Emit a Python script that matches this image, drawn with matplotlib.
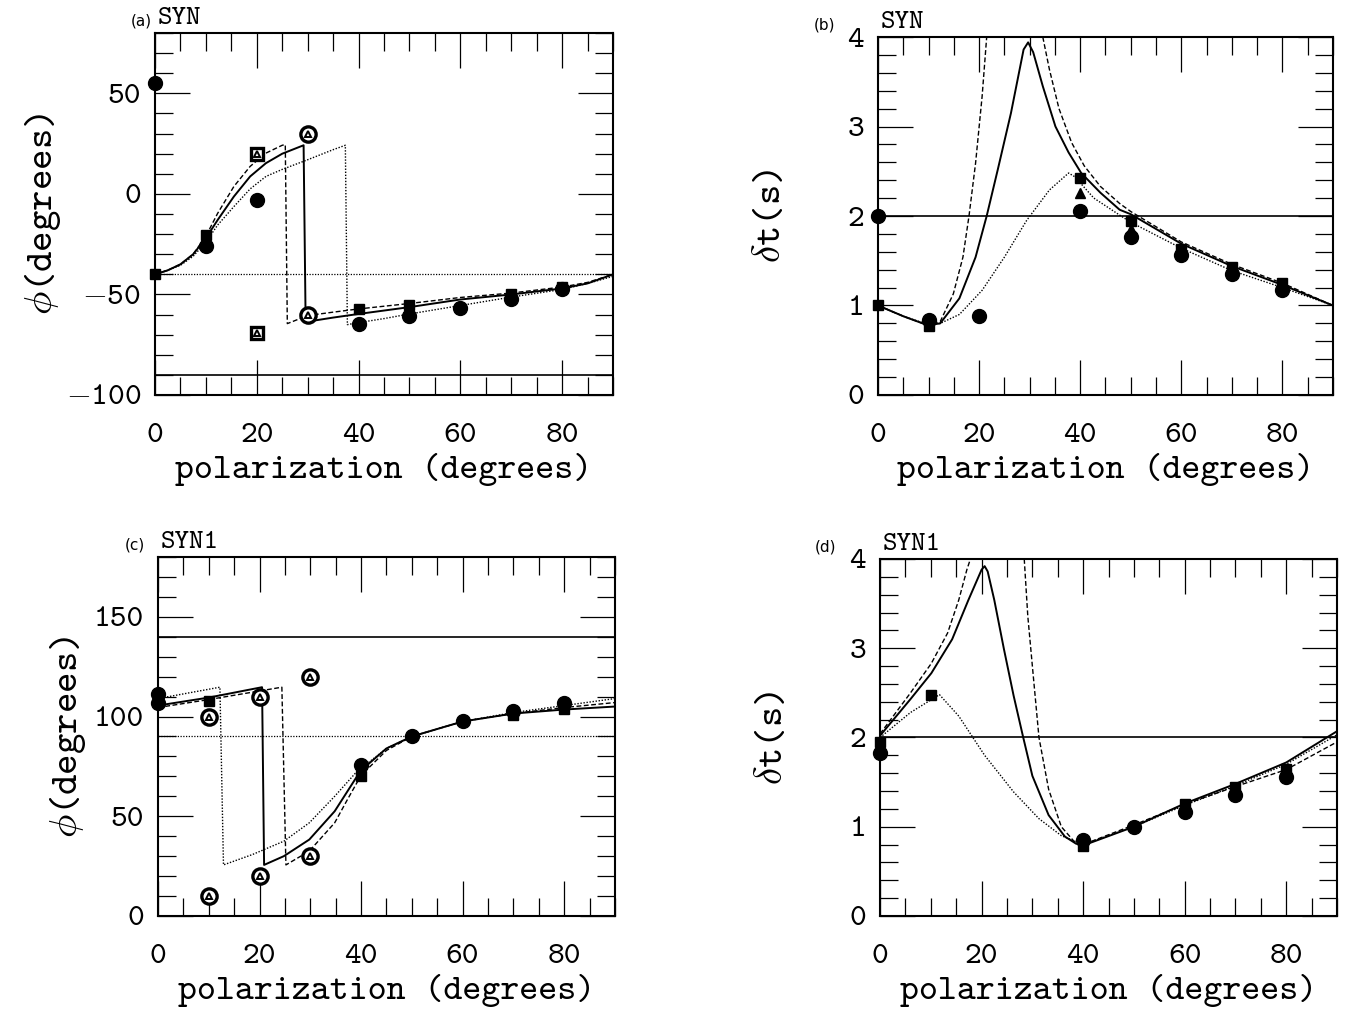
import numpy as np
import matplotlib
matplotlib.use('Agg')
import matplotlib.pyplot as plt
from matplotlib.ticker import MultipleLocator, FuncFormatter

plt.rcParams['font.family'] = 'cmtt10'
plt.rcParams['mathtext.fontset'] = 'cm'

# ---------------- panel (a): phi, SYN ----------------
a_dash_x = [0, 2.5, 5, 7.5, 10, 12.3, 15.5, 18.7, 21.8, 25, 25.6, 26, 30, 35, 40, 50, 60, 70, 80, 85, 90]
a_dash_y = [-40, -38, -35, -30, -21, -9.7, 3.7, 13.7, 20.3, 24.2, 24.5, -64.5, -60.5, -58.8, -57.2, -54.5, -51.5, -49.3, -46.3, -44, -40]
a_sol_x = [0, 2.5, 5, 7.5, 10, 12.3, 15.5, 18.7, 21.8, 25, 29.2, 29.6, 30, 35, 40, 50, 60, 70, 80, 85, 90]
a_sol_y = [-40, -38, -35, -30, -22, -13, -1.3, 8.7, 15.3, 20, 24.2, -64, -63.5, -61.5, -59.7, -56.3, -52.5, -50, -47, -44.5, -40]
a_dot_x = [0, 2.5, 5, 7.5, 10, 12.3, 15.5, 18.7, 21.8, 25, 30, 35, 37.4, 37.8, 40, 45, 50, 60, 70, 80, 85, 90]
a_dot_y = [-40, -38, -35.5, -31, -24, -15.5, -6.3, 2.5, 8.7, 12.2, 17, 22, 24.2, -65, -64, -62, -59.7, -55.5, -51.3, -47.5, -44.5, -41]
a_circ_x = [0, 10, 20, 40, 50, 60, 70, 80]
a_circ_y = [55, -26, -3, -64.5, -60.5, -56.5, -52.5, -47.5]
a_sq_x = [0, 10, 40, 50, 70, 80]
a_sq_y = [-40, -20.5, -57, -55, -50, -46.5]
a_osq_x = [20, 20]
a_osq_y = [20, -69]
a_ocirc_x = [30, 30]
a_ocirc_y = [30, -60]

# ---------------- panel (b): dt, SYN ----------------
b_dash_x = [0, 5, 9.8, 12.3, 14.9, 16.8, 18.0, 19.3, 20.6, 21.5, np.nan,
            32.6, 33.9, 35.8, 38.3, 40.8, 44, 47.8, 50, 60, 70, 80, 90]
b_dash_y = [1.0, 0.88, 0.78, 0.82, 1.13, 1.54, 2.0, 2.59, 3.34, 4.0, np.nan,
            4.0, 3.64, 3.2, 2.82, 2.56, 2.33, 2.14, 2.05, 1.71, 1.46, 1.25, 1.0]
b_sol_x = [0, 5, 9.8, 12.3, 16.1, 19.3, 21.5, 23.7, 26.3, 28.8, 29.7, 30.7, 32.6, 35.1, 37.7,
           40.2, 44, 47.8, 50, 60, 70, 80, 90]
b_sol_y = [1.0, 0.88, 0.78, 0.8, 1.08, 1.54, 2.0, 2.52, 3.15, 3.86, 3.94, 3.83, 3.45, 3.0, 2.71,
           2.48, 2.26, 2.07, 2.02, 1.69, 1.44, 1.23, 1.0]
b_dot_x = [0, 5, 9.8, 12.3, 16.1, 20.6, 25, 29.4, 33.9, 37.7, 38.9, 42.7, 47.8, 50, 60, 70, 80, 90]
b_dot_y = [1.0, 0.88, 0.79, 0.8, 0.9, 1.17, 1.54, 1.95, 2.29, 2.48, 2.44, 2.2, 2.01, 1.93, 1.64, 1.39, 1.2, 1.0]
b_circ_x = [0, 10, 20, 40, 50, 60, 70, 80]
b_circ_y = [2.0, 0.84, 0.88, 2.06, 1.77, 1.56, 1.35, 1.17]
b_sq_x = [0, 10, 40, 50, 60, 70, 80]
b_sq_y = [1.0, 0.77, 2.43, 1.94, 1.63, 1.43, 1.25]
b_tri_x = [40, 50]
b_tri_y = [2.26, 1.86]

# ---------------- panel (c): phi, SYN1 ----------------
c_dot_x = [0, 12.2, 12.9, 18.6, 24.8, 29.8, 34.8, 39.2, 40, 45, 50, 60, 70, 80, 90]
c_dot_y = [109, 114.7, 25.6, 30.8, 37.5, 46.7, 60, 72.5, 74, 84, 90, 97.5, 102, 105.5, 109]
c_sol_x = [0, 10, 20.5, 20.9, 24.8, 29.8, 34.8, 39.2, 40, 45, 50, 60, 70, 80, 90]
c_sol_y = [105.5, 109.5, 114.7, 25.6, 30, 38.3, 52.5, 70, 73, 84, 90, 97.5, 101.5, 103.5, 105]
c_dash_x = [0, 10, 24.4, 25.2, 29.8, 34.8, 37.3, 40, 45, 50, 60, 70, 80, 90]
c_dash_y = [104.5, 108.5, 114.7, 25.6, 32.5, 46.7, 58.3, 70.5, 83, 90, 97.5, 101.5, 104.5, 107]
c_circ_x = [0, 0, 40, 50, 60, 70, 80]
c_circ_y = [111.5, 107, 75.5, 90, 98, 103, 107]
c_sq_x = [10, 40, 70, 80]
c_sq_y = [108, 70, 101, 104]
c_ocirc_x = [10, 10, 20, 20, 30, 30]
c_ocirc_y = [100, 10, 110, 20, 120, 30]

# ---------------- panel (d): dt, SYN1 ----------------
d_dash_x = [0, 6, 10.1, 13.3, 15.5, 17.1, 17.8, np.nan,
            28.4, 29.1, 30, 31.3, 33.2, 35.7, 38.3, 40, 50, 60, 70, 80, 90]
d_dash_y = [2.04, 2.5, 2.83, 3.17, 3.54, 3.88, 4.0, np.nan,
            4.0, 3.36, 2.8, 2.0, 1.42, 1.0, 0.83, 0.8, 1.02, 1.25, 1.45, 1.64, 1.95]
d_sol_x = [0, 6, 10.1, 14.2, 17.4, 20, 20.6, 21.2, 22.5, 24.4, 26.3, 28.2, 30, 33.2, 36.4, 38.6, 40,
           50, 60, 70, 80, 90]
d_sol_y = [2.02, 2.43, 2.72, 3.1, 3.54, 3.88, 3.92, 3.86, 3.54, 2.99, 2.47, 2.0, 1.57, 1.13, 0.89, 0.81, 0.79,
           1.0, 1.26, 1.48, 1.72, 2.07]
d_dot_x = [0, 6, 11.7, 15.5, 20.6, 26.3, 31.3, 35.7, 40, 50, 60, 70, 80, 90]
d_dot_y = [2.0, 2.28, 2.48, 2.24, 1.8, 1.39, 1.09, 0.9, 0.8, 1.0, 1.24, 1.46, 1.7, 2.03]
d_circ_x = [0, 40, 50, 60, 70, 80]
d_circ_y = [1.83, 0.85, 1.0, 1.17, 1.35, 1.56]
d_sq_x = [0, 10, 40, 60, 70, 80]
d_sq_y = [1.95, 2.48, 0.78, 1.26, 1.45, 1.65]

DASH = (0, (3.5, 1.8))
DOT = (0, (1, 1.2))


def tick_fmt(v, pos):
    # cmtt10 has no minus glyph, take it from the math font
    if v < 0:
        return r'$-$' + f'{abs(v):g}'
    return f'{v:g}'


def style_axes(ax, ylo, yhi, ymaj, ymin):
    ax.set_xlim(0, 90)
    ax.set_ylim(ylo, yhi)
    ax.xaxis.set_major_locator(MultipleLocator(20))
    ax.xaxis.set_minor_locator(MultipleLocator(5))
    ax.yaxis.set_major_locator(MultipleLocator(ymaj))
    ax.yaxis.set_minor_locator(MultipleLocator(ymin))
    ax.xaxis.set_major_formatter(FuncFormatter(tick_fmt))
    ax.yaxis.set_major_formatter(FuncFormatter(tick_fmt))
    ax.tick_params(which='both', direction='in', top=True, right=True, width=0.9)
    ax.tick_params(which='major', length=25, labelsize=23)
    ax.tick_params(which='minor', length=13)
    ax.tick_params(axis='x', which='major', pad=20)
    ax.tick_params(axis='y', which='major', pad=10)
    for sp in ax.spines.values():
        sp.set_linewidth(1.5)
    ax.set_xlabel('polarization (degrees)', fontsize=26, labelpad=3)


def draw_curves(ax, dash, sol, dot):
    ax.plot(dash[0], dash[1], color='k', lw=1.0, linestyle=DASH)
    ax.plot(sol[0], sol[1], color='k', lw=1.4, linestyle='-')
    ax.plot(dot[0], dot[1], color='k', lw=1.0, linestyle=DOT)


def filled(ax, x, y, marker, ms):
    ax.plot(x, y, linestyle='none', marker=marker, ms=ms, color='k', clip_on=False, zorder=5)


def open_tri(ax, x, y, marker, ms):
    ax.plot(x, y, linestyle='none', marker=marker, ms=ms, mfc='white', mec='k', mew=2.4,
            clip_on=False, zorder=5)
    ax.plot(x, y, linestyle='none', marker='^', ms=5, mfc='white', mec='k', mew=1.4,
            clip_on=False, zorder=6)


def panel_title(ax, tag, name, tag_x):
    ax.text(tag_x, 1.012, tag, transform=ax.transAxes, ha='right', va='bottom',
            family='DejaVu Sans', fontsize=11)
    ax.text(0.005, 1.008, name, transform=ax.transAxes, ha='left', va='bottom', fontsize=20)


fig = plt.figure(figsize=(13.56, 10.11), dpi=100)
ax_a = fig.add_axes([0.1143, 0.6093, 0.3378, 0.358])
ax_b = fig.add_axes([0.6475, 0.6093, 0.3355, 0.3541])
ax_c = fig.add_axes([0.1165, 0.094, 0.337, 0.3551])
ax_d = fig.add_axes([0.649, 0.094, 0.337, 0.3531])

# (a)
style_axes(ax_a, -100, 80, 50, 10)
ax_a.axhline(-40, color='k', lw=0.9, linestyle=DOT)
ax_a.axhline(-90, color='k', lw=1.2)
draw_curves(ax_a, (a_dash_x, a_dash_y), (a_sol_x, a_sol_y), (a_dot_x, a_dot_y))
filled(ax_a, a_circ_x, a_circ_y, 'o', 10)
filled(ax_a, a_sq_x, a_sq_y, 's', 7)
open_tri(ax_a, a_osq_x, a_osq_y, 's', 9)
open_tri(ax_a, a_ocirc_x, a_ocirc_y, 'o', 11)
ax_a.set_ylabel(r'$\phi$(degrees)', fontsize=28, labelpad=2)
panel_title(ax_a, '(a)', 'SYN', -0.006)

# (b)
style_axes(ax_b, 0, 4, 1, 0.2)
ax_b.axhline(2, color='k', lw=1.2)
draw_curves(ax_b, (b_dash_x, b_dash_y), (b_sol_x, b_sol_y), (b_dot_x, b_dot_y))
filled(ax_b, b_circ_x, b_circ_y, 'o', 10)
filled(ax_b, b_sq_x, b_sq_y, 's', 7)
filled(ax_b, b_tri_x, b_tri_y, '^', 7)
ax_b.set_ylabel(r'$\delta$t(s)', fontsize=28, labelpad=42)
panel_title(ax_b, '(b)', 'SYN', -0.095)

# (c)
style_axes(ax_c, 0, 180, 50, 10)
ax_c.axhline(90, color='k', lw=0.9, linestyle=DOT)
ax_c.axhline(140, color='k', lw=1.2)
draw_curves(ax_c, (c_dash_x, c_dash_y), (c_sol_x, c_sol_y), (c_dot_x, c_dot_y))
filled(ax_c, c_circ_x, c_circ_y, 'o', 10)
filled(ax_c, c_sq_x, c_sq_y, 's', 7)
open_tri(ax_c, c_ocirc_x, c_ocirc_y, 'o', 11)
ax_c.set_ylabel(r'$\phi$(degrees)', fontsize=28, labelpad=4)
panel_title(ax_c, '(c)', 'SYN1', -0.028)

# (d)
style_axes(ax_d, 0, 4, 1, 0.2)
ax_d.axhline(2, color='k', lw=1.2)
draw_curves(ax_d, (d_dash_x, d_dash_y), (d_sol_x, d_sol_y), (d_dot_x, d_dot_y))
filled(ax_d, d_circ_x, d_circ_y, 'o', 10)
filled(ax_d, d_sq_x, d_sq_y, 's', 7)
ax_d.set_ylabel(r'$\delta$t(s)', fontsize=28, labelpad=42)
panel_title(ax_d, '(d)', 'SYN1', -0.095)

fig.savefig('out.png', dpi=100)
